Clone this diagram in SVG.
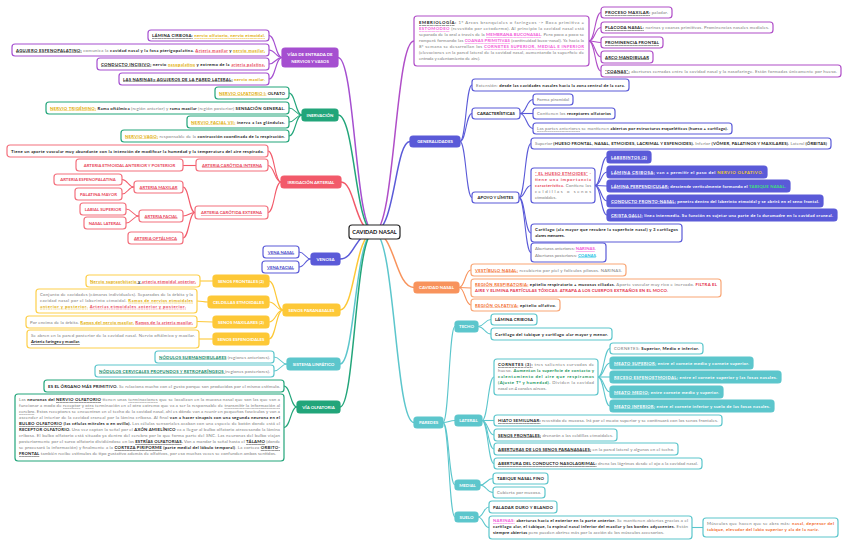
<svg xmlns="http://www.w3.org/2000/svg" width="848" height="547" viewBox="0 0 848 547">
<style>
text{font-family:Lato,"Open Sans","Liberation Sans",sans-serif;font-size:4.3px;fill:#777}
.lab{font-weight:700;fill:#fff;font-size:4.4px;text-anchor:middle}
.ctr{font-weight:700;fill:#111;font-size:5.6px;text-anchor:middle}
.g{fill:#7a7a7a}
.b{font-weight:700;fill:#1a1a1a}
.u{text-decoration:underline}
.y{font-weight:700;fill:#e0aa00}
.r{font-weight:700;fill:#e8475a}
.rd{font-weight:700;fill:#e3314a}
.bl{font-weight:700;fill:#4848c8}
.pk{font-weight:700;fill:#f257d8}
.cy{font-weight:700;fill:#14c0e4}
.gr{font-weight:700;fill:#3fe07a}
.dg{font-weight:700;fill:#17955a}
.ln{font-weight:700;fill:#138a6a}
.or{font-weight:700;fill:#f26a2a}
.w{font-weight:700;fill:#fff}
.yw{font-weight:700;fill:#f7cf2a}
.mid{text-anchor:middle}
rect{rx:3px;ry:3px;stroke-width:1.2}
.cp rect{fill:#fff;stroke:#a54fd0}
.ce rect{fill:#fff;stroke:#b04ec8}
.cg rect{fill:#fff;stroke:#22a57a}
.cr rect{fill:#fff;stroke:#f3707d}
.cb rect{fill:#fff;stroke:#5a5ad8}
.cbf rect{fill:#5a5ad8;stroke:#5a5ad8}
.cy2 rect{fill:#fff;stroke:#fdcf4a}
.cyf rect{fill:#fdc837;stroke:#fdc837}
.ct rect{fill:#fff;stroke:#5cc6cc}
.ctf rect{fill:#5cc6cc;stroke:#5cc6cc}
.co rect{fill:#fff;stroke:#f9a675}
#connectors path{fill:none;stroke-width:1.1}
.sp{stroke:#a54fd0}.se{stroke:#b04ec8}.sg{stroke:#22a57a}.sr{stroke:#f25a6a}.sb{stroke:#5a5ad8}.sy{stroke:#fdc837}.st{stroke:#5cc6cc}.so{stroke:#f8935c}
#connectors .main{stroke-width:1.5}
</style>

<g id="connectors">
<!-- center to left branches -->
<path class="sp main" d="M374 232 C355 232 355 57.5 338 57.5"/>
<path class="sg main" d="M374 232 C355 232 355 115 338 115"/>
<path class="sr main" d="M374 232 C355 232 355 182 341 182"/>
<path class="sb main" d="M374 232 C355 232 355 259 340 259"/>
<path class="sy main" d="M374 232 C355 232 355 310 340 310"/>
<path class="st main" d="M374 232 C355 232 355 364 340 364"/>
<path class="sg main" d="M374 232 C355 232 355 407 340 407"/>
<!-- center to right branches -->
<path class="se main" d="M374 232 C395 232 395 41 414 41"/>
<path class="sb main" d="M374 232 C395 232 395 141.5 410 141.5"/>
<path class="so main" d="M374 232 C395 232 395 287.5 414 287.5"/>
<path class="st main" d="M374 232 C395 232 395 422.5 414 422.5"/>
<!-- vias -->
<path class="sp" d="M282 57.5 C275.5 57.5 275.5 35.5 269 35.5"/>
<path class="sp" d="M282 57.5 C275.5 57.5 275.5 50 269 50"/>
<path class="sp" d="M282 57.5 C275.5 57.5 275.5 64 269 64"/>
<path class="sp" d="M282 57.5 C275.5 57.5 275.5 79 269 79"/>
<!-- inervacion -->
<path class="sg" d="M302 115 C295.5 115 295.5 93 289 93"/>
<path class="sg" d="M302 115 C295.5 115 295.5 108 289 108"/>
<path class="sg" d="M302 115 C295.5 115 295.5 122 289 122"/>
<path class="sg" d="M302 115 C295.5 115 295.5 136 289 136"/>
<!-- irrigacion -->
<path class="sr" d="M281 182 C274.5 182 274.5 151 268 151"/>
<path class="sr" d="M281 182 C274.5 182 274.5 165.5 268 165.5"/>
<path class="sr" d="M281 182 C274.5 182 274.5 212.5 268 212.5"/>
<path class="sr" d="M196 165.5 L183 165.5"/>
<path class="sr" d="M195 212.5 C189 212.5 189 187 183 187"/>
<path class="sr" d="M195 212.5 C189 212.5 189 216 183 216"/>
<path class="sr" d="M195 212.5 C189 212.5 189 238 183 238"/>
<path class="sr" d="M134 187 C128 187 128 179.5 122 179.5"/>
<path class="sr" d="M134 187 C128 187 128 194 122 194"/>
<path class="sr" d="M139 216 C132.5 216 132.5 209 126 209"/>
<path class="sr" d="M139 216 C132.5 216 132.5 223 126 223"/>
<!-- venosa -->
<path class="sb" d="M311 259 C305 259 305 252 299 252"/>
<path class="sb" d="M311 259 C305 259 305 267 299 267"/>
<!-- senos -->
<path class="sy" d="M283 310 C276 310 276 281 269 281"/>
<path class="sy" d="M283 310 C276 310 276 302 269 302"/>
<path class="sy" d="M283 310 C276 310 276 322 269 322"/>
<path class="sy" d="M283 310 C276 310 276 339 269 339"/>
<path class="sy" d="M213 281 L200 281"/>
<path class="sy" d="M208 302 C202.5 302 202.5 301 197 301"/>
<path class="sy" d="M213 322 L197 321.5"/>
<path class="sy" d="M213 339 L199 339"/>
<!-- linfatico -->
<path class="st" d="M287 364 C280.5 364 280.5 357 274 357"/>
<path class="st" d="M287 364 C280.5 364 280.5 371 274 371"/>
<!-- olfatoria -->
<path class="sg" d="M297 407 C290.5 407 290.5 386 284 386"/>
<path class="sg" d="M297 407 C290.5 407 290.5 427.5 284 427.5"/>
<!-- embriologia -->
<path class="se" d="M589 41 C595 41 595 12.5 601 12.5"/>
<path class="se" d="M589 41 C595 41 595 27.5 601 27.5"/>
<path class="se" d="M589 41 C595 41 595 42.5 601 42.5"/>
<path class="se" d="M589 41 C595 41 595 57 601 57"/>
<path class="se" d="M589 41 C595 41 595 71 601 71"/>
<!-- generalidades -->
<path class="sb" d="M460 141.5 C466 141.5 466 85 472 85"/>
<path class="sb" d="M460 141.5 C466 141.5 466 113.5 472 113.5"/>
<path class="sb" d="M460 141.5 C466 141.5 466 197.5 472 197.5"/>
<path class="sb" d="M520 113.5 C526.5 113.5 526.5 99.5 533 99.5"/>
<path class="sb" d="M520 113.5 L533 113.5"/>
<path class="sb" d="M520 113.5 C526.5 113.5 526.5 128.5 533 128.5"/>
<path class="sb" d="M519 197.5 C525 197.5 525 143.5 531 143.5"/>
<path class="sb" d="M519 197.5 C525 197.5 525 185.5 531 185.5"/>
<path class="sb" d="M519 197.5 C525 197.5 525 233 531 233"/>
<path class="sb" d="M519 197.5 C525 197.5 525 252.5 531 252.5"/>
<path class="sb" d="M595 185.5 C601 185.5 601 157 607 157"/>
<path class="sb" d="M595 185.5 C601 185.5 601 172 607 172"/>
<path class="sb" d="M595 185.5 L607 186"/>
<path class="sb" d="M595 185.5 C601 185.5 601 201 607 201"/>
<path class="sb" d="M595 185.5 C601 185.5 601 215 607 215"/>
<!-- cavidad nasal -->
<path class="so" d="M459 287.5 C465 287.5 465 270 471 270"/>
<path class="so" d="M459 287.5 L471 288"/>
<path class="so" d="M459 287.5 C465 287.5 465 305 471 305"/>
<!-- paredes -->
<path class="st" d="M443 422.5 C449 422.5 449 326.5 455 326.5"/>
<path class="st" d="M443 422.5 C449 422.5 449 420.5 455 420.5"/>
<path class="st" d="M443 422.5 C449 422.5 449 485 455 485"/>
<path class="st" d="M443 422.5 C449 422.5 449 517 455 517"/>
<path class="st" d="M478 326.5 C484.5 326.5 484.5 319.5 491 319.5"/>
<path class="st" d="M478 326.5 C484.5 326.5 484.5 334 491 334"/>
<path class="st" d="M482 420.5 C488 420.5 488 377 494 377"/>
<path class="st" d="M482 420.5 L494 420.5"/>
<path class="st" d="M482 420.5 C488 420.5 488 435 494 435"/>
<path class="st" d="M482 420.5 C488 420.5 488 449 494 449"/>
<path class="st" d="M482 420.5 C488 420.5 488 463.5 494 463.5"/>
<path class="st" d="M598 377 C604 377 604 348.5 610 348.5"/>
<path class="st" d="M598 377 C604 377 604 363 610 363"/>
<path class="st" d="M598 377 L610 377"/>
<path class="st" d="M598 377 C604 377 604 392 610 392"/>
<path class="st" d="M598 377 C604 377 604 406 610 406"/>
<path class="st" d="M480 485 C486.5 485 486.5 478.5 493 478.5"/>
<path class="st" d="M480 485 C486.5 485 486.5 492.5 493 492.5"/>
<path class="st" d="M478 517 C483.5 517 483.5 507 489 507"/>
<path class="st" d="M478 517 C483.5 517 483.5 527.5 489 527.5"/>
<path class="st" d="M692 527.5 L703 527.5"/>
</g>

<!-- CENTER -->
<g id="center">
<rect x="349" y="225" width="51" height="14" fill="#fff" stroke="#222" stroke-width="1.3"/>
<text class="ctr" x="374.5" y="234">CAVIDAD NASAL</text>
</g>

<!-- VIAS DE ENTRADA -->
<g id="vias">
<rect x="282" y="48" width="56" height="19" fill="#a54fd0" stroke="#a54fd0"/>
<text class="lab" x="310" y="56">VÍAS DE ENTRADA DE</text>
<text class="lab" x="310" y="62.5">NERVIOS Y VASOS</text>
</g>
<g id="vias-1" class="cp"><rect x="148" y="30" width="121" height="11"/><text x="152" y="37.2" textLength="113"><tspan class="b u">LÁMINA CIRBOSA:</tspan><tspan class="y"> </tspan><tspan class="y u">nervio olfatorio, nervio etmoidal.</tspan></text></g>
<g id="vias-2" class="cp"><rect x="12" y="44" width="257" height="12"/><text x="16" y="51.5" textLength="249"><tspan class="b u">AGUJERO ESFENOPALATINO:</tspan><tspan class="g"> comunica la </tspan><tspan class="b">cavidad nasal y la fosa pterigopalatina. </tspan><tspan class="r u">Arteria maxilar</tspan><tspan class="b"> y </tspan><tspan class="y u">nervio maxilar.</tspan></text></g>
<g id="vias-3" class="cp"><rect x="97" y="58" width="172" height="12"/><text x="101" y="65.5" textLength="164"><tspan class="b u">CONDUCTO INCISIVO:</tspan><tspan class="b"> nervio </tspan><tspan class="y u">nasopalatino</tspan><tspan class="b"> y extremo de la </tspan><tspan class="r u">arteria palatina.</tspan></text></g>
<g id="vias-4" class="cp"><rect x="119" y="73" width="150" height="12"/><text x="123" y="80.5" textLength="142"><tspan class="b u">LAS NARINAS= AGUJEROS DE LA PARED LATERAL:</tspan><tspan class="y"> nervio maxilar.</tspan></text></g>

<!-- INERVACION -->
<g id="inervacion">
<rect x="302" y="109" width="36" height="12" fill="#22a57a" stroke="#22a57a"/>
<text class="lab" x="320" y="116.6">INERVACIÓN</text>
</g>
<g id="inerv-1" class="cg"><rect x="215" y="87" width="74" height="12"/><text x="219" y="94.5" textLength="66"><tspan class="y u">NERVIO OLFATORIO I:</tspan><tspan class="b"> OLFATO</tspan></text></g>
<g id="inerv-2" class="cg"><rect x="46" y="102" width="243" height="12"/><text x="50" y="109.5" textLength="235"><tspan class="y u">NERVIO TRIGÉMINO:</tspan><tspan class="b"> Rama oftálmica </tspan><tspan class="g">(región anterior) y </tspan><tspan class="b">rama maxilar </tspan><tspan class="g">(región posterior) </tspan><tspan class="b">SENSACIÓN GENERAL.</tspan></text></g>
<g id="inerv-3" class="cg"><rect x="187" y="116" width="102" height="12"/><text x="191" y="123.5" textLength="94"><tspan class="y u">NERVIO FACIAL VII:</tspan><tspan class="b"> inerva a las glándulas.</tspan></text></g>
<g id="inerv-4" class="cg"><rect x="121" y="130" width="168" height="12"/><text x="125" y="137.5" textLength="160"><tspan class="y u">NERVIO VAGO:</tspan><tspan class="g"> responsable de la </tspan><tspan class="b">contracción coordinada de la respiración.</tspan></text></g>

<!-- IRRIGACION -->
<g id="irrigacion">
<rect x="281" y="176" width="60" height="12" fill="#f25a6a" stroke="#f25a6a"/>
<text class="lab" x="311" y="183.6">IRRIGACIÓN ARTERIAL</text>
</g>
<g id="irr-0" class="cr"><rect x="7" y="145" width="261" height="12"/><text x="11" y="152.5" textLength="253" class="b">Tiene un aporte vascular muy abundante con la intención de modificar la humedad y la temperatura del aire respirado.</text></g>
<g id="irr-int" class="cr"><rect x="196" y="159" width="72" height="12"/><text x="232" y="166.5" class="r u mid">ARTERIA CARÓTIDA INTERNA</text></g>
<g id="irr-etm" class="cr"><rect x="76" y="159" width="107" height="12"/><text x="129.5" y="166.5" class="r mid">ARTERIA ETMOIDAL ANTERIOR Y POSTERIOR</text></g>
<g id="irr-ext" class="cr"><rect x="195" y="206" width="73" height="13"/><text x="231.5" y="214" class="r u mid">ARTERIA CARÓTIDA EXTERNA</text></g>
<g id="irr-max" class="cr"><rect x="134" y="181" width="49" height="12"/><text x="158.5" y="188.5" class="r u mid">ARTERIA MAXILAR</text></g>
<g id="irr-esf" class="cr"><rect x="54" y="174" width="68" height="11"/><text x="88" y="181" class="r mid">ARTERIA ESFENOPALATINA</text></g>
<g id="irr-pal" class="cr"><rect x="75" y="188" width="47" height="12"/><text x="98.5" y="195.5" class="r mid">PALATINA MAYOR</text></g>
<g id="irr-fac" class="cr"><rect x="139" y="210" width="44" height="12"/><text x="161" y="217.5" class="r u mid">ARTERIA FACIAL</text></g>
<g id="irr-lab" class="cr"><rect x="80" y="203" width="46" height="12"/><text x="103" y="210.5" class="r mid">LABIAL SUPERIOR</text></g>
<g id="irr-nas" class="cr"><rect x="84" y="217" width="42" height="12"/><text x="105" y="224.5" class="r mid">NASAL LATERAL</text></g>
<g id="irr-oft" class="cr"><rect x="128" y="232" width="55" height="12"/><text x="155.5" y="239.5" class="r u mid">ARTERIA OFTÁLMICA</text></g>

<!-- VENOSA -->
<g id="venosa">
<rect x="311" y="253" width="29" height="12" fill="#5a5ad8" stroke="#5a5ad8"/>
<text class="lab" x="325.5" y="260.6">VENOSA</text>
</g>
<g id="ven-1" class="cb"><rect x="263" y="246" width="36" height="12"/><text x="281" y="253.5" class="bl u mid">VENA NASAL</text></g>
<g id="ven-2" class="cb"><rect x="262" y="261" width="37" height="12"/><text x="280.5" y="268.5" class="bl u mid">VENA FACIAL</text></g>

<!-- SENOS PARANASALES -->
<g id="senos">
<rect x="283" y="304" width="57" height="12" fill="#fdc837" stroke="#fdc837"/>
<text class="lab" x="311.5" y="311.6">SENOS PARANASALES</text>
</g>
<g id="sen-front" class="cyf"><rect x="213" y="275" width="56" height="12"/><text x="241" y="282.6" class="lab">SENOS FRONTALES (2)</text></g>
<g id="sen-front-t" class="cy2"><rect x="86" y="275" width="114" height="12"/><text x="90" y="282.5" textLength="106"><tspan class="y u">Nervio supraorbitario</tspan><tspan class="b u"> y </tspan><tspan class="r u">arteria etmoidal anterior.</tspan></text></g>
<g id="sen-celd" class="cyf"><rect x="208" y="296" width="61" height="12"/><text x="238.5" y="303.6" class="lab">CELDILLAS ETMOIDALES</text></g>
<g id="sen-celd-t" class="cy2"><rect x="36" y="289" width="161" height="24"/>
<text x="40" y="295.8" textLength="153" class="g">Conjunto de cavidades (cámaras individuales). Separados de la órbita y la</text>
<text x="40" y="301.8" textLength="153"><tspan class="g">cavidad nasal por el laberinto etmoidal. </tspan><tspan class="y u">Ramos de nervios etmoidales</tspan></text>
<text x="40" y="307.8" textLength="146"><tspan class="y u">anterior y posterior.</tspan><tspan class="r"> </tspan><tspan class="r u">Arterias etmoidales anterior y posterior.</tspan></text></g>
<g id="sen-max" class="cyf"><rect x="213" y="316" width="56" height="12"/><text x="241" y="323.6" class="lab">SENOS MAXILARES (2)</text></g>
<g id="sen-max-t" class="cy2"><rect x="26" y="316" width="171" height="12"/><text x="30" y="323.5" textLength="163"><tspan class="g">Por encima de la órbita. </tspan><tspan class="y u">Ramos del nervio maxilar.</tspan><tspan class="r"> </tspan><tspan class="r u">Ramos de la arteria maxilar.</tspan></text></g>
<g id="sen-esf" class="cyf"><rect x="213" y="333" width="56" height="12"/><text x="241" y="340.6" class="lab">SENOS ESFENOIDALES</text></g>
<g id="sen-esf-t" class="cy2"><rect x="27" y="330" width="172" height="18"/>
<text x="31" y="337" textLength="164" class="g">Se abren en la pared posterior de la cavidad nasal. Nervio oftálmico y maxilar.</text>
<text x="31" y="343.2" class="b u">Arteria faríngea y maxilar.</text></g>

<!-- SISTEMA LINFATICO -->
<g id="linfatico">
<rect x="287" y="358" width="53" height="12" fill="#5cc6cc" stroke="#5cc6cc"/>
<text class="lab" x="313.5" y="365.6">SISTEMA LINFÁTICO</text>
</g>
<g id="linf-1" class="ct"><rect x="155" y="351" width="119" height="12"/><text x="159" y="358.5" textLength="111"><tspan class="ln u">NÓDULOS SUBMANDIBULARES</tspan><tspan class="g"> (regiones anteriores).</tspan></text></g>
<g id="linf-2" class="ct"><rect x="95" y="365" width="179" height="12"/><text x="99" y="372.5" textLength="171"><tspan class="ln u">NÓDULOS CERVICALES PROFUNDOS Y RETROFARÍNGEOS </tspan><tspan class="g">(regiones posteriores).</tspan></text></g>

<!-- VIA OLFATORIA -->
<g id="via-olfatoria">
<rect x="297" y="401" width="43" height="12" fill="#22a57a" stroke="#22a57a"/>
<text class="lab" x="318.5" y="408.6">VÍA OLFATORIA</text>
</g>
<g id="olf-1" class="cg"><rect x="44" y="380" width="240" height="12"/><text x="48" y="387.5" textLength="232"><tspan class="b">ES EL ÓRGANO MÁS PRIMITIVO.</tspan><tspan class="g"> Se relaciona mucho con el gusto porque son producidos por el mismo estímulo.</tspan></text></g>
<g id="olf-2" class="cg"><rect x="15" y="394" width="269" height="67"/>
<text x="19" y="401" textLength="261"><tspan class="g">Las </tspan><tspan class="b">neuronas del </tspan><tspan class="b u">NERVIO OLFATORIO</tspan><tspan class="g"> tienen unas </tspan><tspan class="g u">terminaciones</tspan><tspan class="g"> que se localizan en la mucosa nasal que son las que van a</tspan></text>
<text x="19" y="407" textLength="261"><tspan class="g">funcionar a modo de </tspan><tspan class="g u">receptor</tspan><tspan class="g"> y </tspan><tspan class="g u">otra</tspan><tspan class="g"> terminación en el otro extremo que va a ser la responsable de </tspan><tspan class="g u">transmitir la información al</tspan></text>
<text x="19" y="413" textLength="261"><tspan class="g u">cerebro</tspan><tspan class="g">. Estos receptores se encuentran en el techo de la cavidad nasal, ahí es dónde van a reunir en pequeños fascículos y van a</tspan></text>
<text x="19" y="419" textLength="261"><tspan class="g">ascender al interior de la cavidad craneal por la lámina cribosa. Al final </tspan><tspan class="b">van a hacer sinapsis con una segunda neurona en el</tspan></text>
<text x="19" y="425" textLength="261"><tspan class="b u">BULBO OLFATORIO</tspan><tspan class="b"> (las células mitrales o en ovillo).</tspan><tspan class="g"> Las células sensoriales acaban con una especie de botón donde está el</tspan></text>
<text x="19" y="431" textLength="261"><tspan class="b">RECEPTOR OLFATORIO.</tspan><tspan class="g"> Una vez captan la señal por el </tspan><tspan class="b">AXÓN AMIELÍNICO</tspan><tspan class="g"> va a llegar al bulbo olfatorio atravesando la lámina</tspan></text>
<text x="19" y="437" textLength="261"><tspan class="g">cribosa. El bulbo olfatorio está situado ya dentro del cerebro por lo que forma parte del SNC. Las neuronas del bulbo viajan</tspan></text>
<text x="19" y="443" textLength="261"><tspan class="g">posteriormente por el surco olfatorio dividiéndose en las </tspan><tspan class="b u">ESTRÍAS OLFATORIAS</tspan><tspan class="b">.</tspan><tspan class="g"> Van a mandar la señal hasta el </tspan><tspan class="b u">TÁLAMO</tspan><tspan class="g"> (donde</tspan></text>
<text x="19" y="449" textLength="261"><tspan class="g">se procesará la información) y finalmente a la </tspan><tspan class="b u">CORTEZA PIRIFORME</tspan><tspan class="b"> (parte medial del lóbulo temporal)</tspan><tspan class="g">. La corteza </tspan><tspan class="b u">ORBITO-</tspan></text>
<text x="19" y="455" textLength="257"><tspan class="b u">FRONTAL</tspan><tspan class="g"> también recibe estímulos de tipo gustativo además de olfativos, por eso muchas veces se confunden ambos sentidos.</tspan></text>
</g>

<!-- EMBRIOLOGIA -->
<g id="embriologia" class="ce"><rect x="414" y="16" width="175" height="50"/>
<text x="419" y="24" textLength="165"><tspan class="b u">EMBRIOLOGÍA</tspan><tspan class="b">:</tspan><tspan class="g"> 1º Arcos branquiales o faríngeos -&gt; Boca primitiva =</tspan></text>
<text x="419" y="30" textLength="165"><tspan class="pk u">ESTOMODEO</tspan><tspan class="g"> (revestido por ectodermo). Al principio la cavidad nasal está</tspan></text>
<text x="419" y="36" textLength="165"><tspan class="g">separada de la oral a través de la </tspan><tspan class="pk u">MEMBRANA BUCONASAL</tspan><tspan class="g">. Pero poco a poco se</tspan></text>
<text x="419" y="42" textLength="165"><tspan class="g">romperá formando las </tspan><tspan class="pk u">COANAS PRIMITIVAS</tspan><tspan class="g"> (continuidad buco-nasal). Ya hacia la</tspan></text>
<text x="419" y="48" textLength="165"><tspan class="g">8ª semana se desarrollan los </tspan><tspan class="pk u">CORNETES SUPERIOR, MEDIAL E INFERIOR</tspan></text>
<text x="419" y="54" textLength="165" class="g">(elevaciones en la pared lateral de la cavidad nasal, aumentando la superficie de</text>
<text x="419" y="60" class="g">entrada y calentamiento de aire).</text>
</g>
<g id="emb-1" class="ce"><rect x="601" y="7" width="71" height="11"/><text x="605" y="14" textLength="63"><tspan class="b u">PROCESO MAXILAR:</tspan><tspan class="g"> paladar.</tspan></text></g>
<g id="emb-2" class="ce"><rect x="601" y="22" width="172" height="11"/><text x="605" y="29" textLength="164"><tspan class="b u">PLACODA NASAL:</tspan><tspan class="g"> narinas y coanas primitivas. Prominencias nasales mediales.</tspan></text></g>
<g id="emb-3" class="ce"><rect x="601" y="37" width="62" height="11"/><text x="605" y="44" textLength="54" class="b u">PROMINENCIA FRONTAL</text></g>
<g id="emb-4" class="ce"><rect x="601" y="51" width="52" height="12"/><text x="605" y="58.5" textLength="44" class="b u">ARCO MANDIBULAR</text></g>
<g id="emb-5" class="ce"><rect x="601" y="65" width="240" height="12"/><text x="605" y="72.5" textLength="232"><tspan class="b u">*COANAS*:</tspan><tspan class="g"> aberturas cerradas entre la cavidad nasal y la nasofaringe. Están formadas únicamente por hueso.</tspan></text></g>

<!-- GENERALIDADES -->
<g id="generalidades">
<rect x="410" y="136" width="50" height="11" fill="#5a5ad8" stroke="#5a5ad8"/>
<text class="lab" x="435" y="143.2">GENERALIDADES</text>
</g>
<g id="gen-ext" class="cb"><rect x="472" y="79" width="157" height="12"/><text x="476" y="86.5" textLength="149"><tspan class="g">Extensión: </tspan><tspan class="b">desde las cavidades nasales hacia la zona central de la cara.</tspan></text></g>
<g id="gen-car" class="cb"><rect x="472" y="108" width="48" height="11"/><text x="496" y="115.2" class="b mid">CARACTERÍSTICAS</text></g>
<g id="car-1" class="cb"><rect x="533" y="94" width="40" height="11"/><text x="537" y="101" textLength="32" class="g">Forma piramidal</text></g>
<g id="car-2" class="cb"><rect x="533" y="108" width="82" height="11"/><text x="537" y="115" textLength="74"><tspan class="g">Contienen los </tspan><tspan class="b">receptores olfatorios</tspan></text></g>
<g id="car-3" class="cb"><rect x="533" y="123" width="199" height="11"/><text x="537" y="130" textLength="191"><tspan class="g u">Las partes anteriores</tspan><tspan class="g"> se mantienen </tspan><tspan class="b">abiertas por estructuras esqueléticas (hueso + cartílago).</tspan></text></g>
<g id="gen-apo" class="cb"><rect x="472" y="192" width="47" height="11"/><text x="495.5" y="199.2" class="b mid">APOYO Y LÍMITES</text></g>
<g id="apo-1" class="cb"><rect x="531" y="138" width="300" height="11"/><text x="535" y="145" textLength="292"><tspan class="g">Superior </tspan><tspan class="b">(HUESO FRONTAL, NASAL, ETMOIDES, LACRIMAL Y ESFENOIDES).</tspan><tspan class="g"> Inferior </tspan><tspan class="b">(VÓMER, PALATINOS Y MAXILARES).</tspan><tspan class="g"> Lateral </tspan><tspan class="b">(ÓRBITAS)</tspan></text></g>
<g id="apo-etm" class="cb"><rect x="531" y="168" width="64" height="35"/>
<text x="535" y="174.5" textLength="56"><tspan class="r u">* EL HUESO ETMOIDES*</tspan><tspan class="r"> -</tspan></text>
<text x="535" y="180.5" textLength="56" class="r">tiene una importancia</text>
<text x="535" y="186.5" textLength="56"><tspan class="r">característica.</tspan><tspan class="g"> Contiene las</tspan></text>
<text x="535" y="192.5" textLength="56" class="g">celdillas o senos</text>
<text x="535" y="198.5" class="g">etmoidales.</text>
</g>
<g id="etm-1" class="cbf"><rect x="607" y="151" width="44" height="12"/><text x="611" y="158.5" textLength="36" class="w u">LABERINTOS (2)</text></g>
<g id="etm-2" class="cbf"><rect x="607" y="166" width="160" height="12"/><text x="611" y="173.5" textLength="152"><tspan class="w u">LÁMINA CRIBOSA:</tspan><tspan class="w"> van a permitir el paso del </tspan><tspan class="yw">NERVIO OLFATIVO.</tspan></text></g>
<g id="etm-3" class="cbf"><rect x="607" y="180" width="183" height="12"/><text x="611" y="187.5" textLength="175"><tspan class="w u">LÁMINA PERPENDICULAR:</tspan><tspan class="w"> desciende verticalmente formando el </tspan><tspan class="gr">TABIQUE NASAL.</tspan></text></g>
<g id="etm-4" class="cbf"><rect x="607" y="195" width="216" height="12"/><text x="611" y="202.5" textLength="208"><tspan class="w u">CONDUCTO FRONTO-NASAL:</tspan><tspan class="w"> penetra dentro del laberinto etmoidal y se abrirá en el seno frontal.</tspan></text></g>
<g id="etm-5" class="cbf"><rect x="607" y="209" width="230" height="12"/><text x="611" y="216.5" textLength="222"><tspan class="w u">CRISTA GALLI:</tspan><tspan class="w"> línea intermedia. Su función es sujetar una parte de la duramadre en la cavidad craneal.</tspan></text></g>
<g id="apo-cart" class="cb"><rect x="531" y="224" width="151" height="18"/>
<text x="535" y="231" textLength="143" class="b">Cartílago (ala mayor que recubre la superficie nasal) y 3 cartílagos</text>
<text x="535" y="237.2" class="b">alares menores.</text></g>
<g id="apo-abert" class="cb"><rect x="531" y="243" width="75" height="19"/>
<text x="535" y="250.2"><tspan class="g">Aberturas anteriores: </tspan><tspan class="pk u">NARINAS</tspan><tspan class="g">.</tspan></text>
<text x="535" y="256.6"><tspan class="g">Aberturas posteriores: </tspan><tspan class="cy u">COANAS</tspan><tspan class="g">.</tspan></text></g>

<!-- CAVIDAD NASAL (orange) -->
<g id="cavidad">
<rect x="414" y="282" width="45" height="11" fill="#f8935c" stroke="#f8935c"/>
<text class="lab" x="436.5" y="289.2">CAVIDAD NASAL</text>
</g>
<g id="cav-1" class="co"><rect x="471" y="264" width="155" height="12"/><text x="475" y="271.5" textLength="147"><tspan class="or u">VESTÍBULO NASAL:</tspan><tspan class="g"> recubierto por piel y folículos pilosos. NARINAS.</tspan></text></g>
<g id="cav-2" class="co"><rect x="471" y="279" width="250" height="18"/>
<text x="475" y="285.6" textLength="242"><tspan class="or u">REGIÓN RESPIRATORIA:</tspan><tspan class="b"> epitelio respiratorio + mucosas ciliadas.</tspan><tspan class="g"> Aporte vascular muy rico e inervado. </tspan><tspan class="rd">FILTRA EL</tspan></text>
<text x="475" y="291.8" textLength="193" class="rd">AIRE Y ELIMINA PARTÍCULAS TÓXICAS. ATRAPA A LOS CUERPOS EXTRAÑOS EN EL MOCO.</text></g>
<g id="cav-3" class="co"><rect x="471" y="299" width="89" height="12"/><text x="475" y="306.5" textLength="81"><tspan class="or u">REGIÓN OLFATIVA:</tspan><tspan class="b"> epitelio olfativo.</tspan></text></g>

<!-- PAREDES -->
<g id="paredes">
<rect x="414" y="417" width="29" height="11" fill="#5cc6cc" stroke="#5cc6cc"/>
<text class="lab" x="428.5" y="424.2">PAREDES</text>
</g>
<g id="techo" class="ctf"><rect x="455" y="321" width="23" height="11"/><text class="lab" x="466.5" y="328.2">TECHO</text></g>
<g id="techo-1" class="ct"><rect x="491" y="314" width="46" height="11"/><text x="495" y="321" textLength="38" class="b">LÁMINA CRIBOSA</text></g>
<g id="techo-2" class="ct"><rect x="491" y="328" width="121" height="12"/><text x="495" y="335.5" textLength="113" class="b">Cartílago del tabique y cartílago alar mayor y menor.</text></g>
<g id="lateral" class="ctf"><rect x="455" y="415" width="27" height="11"/><text class="lab" x="468.5" y="422.2">LATERAL</text></g>
<g id="lat-cornetes" class="ct"><rect x="494" y="359" width="104" height="36"/>
<text x="498" y="366" textLength="96"><tspan class="b u">CORNETES (3):</tspan><tspan class="g"> tres salientes curvados de</tspan></text>
<text x="498" y="372" textLength="96"><tspan class="g">hueso. </tspan><tspan class="dg">Aumentan la superficie de contacto y</tspan></text>
<text x="498" y="378" textLength="96" class="dg">calentamiento del aire que respiramos</text>
<text x="498" y="384" textLength="96"><tspan class="dg">(Ajuste Tº y humedad).</tspan><tspan class="g"> Dividen la cavidad</tspan></text>
<text x="498" y="390" class="g">nasal en 4 canales aéreos.</text>
</g>
<g id="corn-1" class="ct"><rect x="610" y="343" width="93" height="11"/><text x="614" y="350" textLength="85"><tspan class="g">CORNETES: </tspan><tspan class="b">Superior, Medio  e inferior.</tspan></text></g>
<g id="corn-2" class="ctf"><rect x="610" y="357" width="143" height="12"/><text x="614" y="364.5" textLength="135"><tspan class="w u">MEATO SUPERIOR:</tspan><tspan class="w"> entre el cornete medio y cornete superior.</tspan></text></g>
<g id="corn-3" class="ctf"><rect x="610" y="371" width="171" height="12"/><text x="614" y="378.5" textLength="163"><tspan class="w u">RECESO ESFENOETMOIDAL:</tspan><tspan class="w"> entre el cornete superior y las fosas nasales.</tspan></text></g>
<g id="corn-4" class="ctf"><rect x="610" y="386" width="113" height="12"/><text x="614" y="393.5" textLength="105"><tspan class="w u">MEATO MEDIO:</tspan><tspan class="w"> entre cornete medio y superior.</tspan></text></g>
<g id="corn-5" class="ctf"><rect x="610" y="400" width="164" height="12"/><text x="614" y="407.5" textLength="156"><tspan class="w u">MEATO INFERIOR:</tspan><tspan class="w"> entre el cornete inferior y suelo de las fosas nasales.</tspan></text></g>
<g id="lat-hiato" class="ct"><rect x="494" y="415" width="228" height="11"/><text x="498" y="422" textLength="220"><tspan class="b u">HIATO SEMILUNAR:</tspan><tspan class="g"> revestido de mucosa. Irá por el meato superior y se continuará con los senos frontales.</tspan></text></g>
<g id="lat-senos" class="ct"><rect x="494" y="429" width="123" height="12"/><text x="498" y="436.5" textLength="115"><tspan class="b u">SENOS FRONTALES:</tspan><tspan class="g"> drenarán a las celdillas etmoidales.</tspan></text></g>
<g id="lat-abert" class="ct"><rect x="494" y="443" width="184" height="12"/><text x="498" y="450.5" textLength="176"><tspan class="b u">ABERTURAS DE LOS SENOS PARANASALES:</tspan><tspan class="g"> en la pared lateral y algunas en el techo.</tspan></text></g>
<g id="lat-cond" class="ct"><rect x="494" y="458" width="208" height="11"/><text x="498" y="465" textLength="200"><tspan class="b u">ABERTURA DEL CONDUCTO NASOLAGRIMAL:</tspan><tspan class="g"> drena las lágrimas desde el ojo a la cavidad nasal.</tspan></text></g>
<g id="medial" class="ctf"><rect x="455" y="480" width="25" height="10"/><text class="lab" x="467.5" y="486.6">MEDIAL</text></g>
<g id="med-1" class="ct"><rect x="493" y="473" width="55" height="11"/><text x="497" y="480" textLength="47" class="b">TABIQUE NASAL FINO</text></g>
<g id="med-2" class="ct"><rect x="493" y="487" width="52" height="11"/><text x="497" y="494" textLength="44" class="g">Cubierta por mucosa.</text></g>
<g id="suelo" class="ctf"><rect x="455" y="512" width="23" height="10"/><text class="lab" x="466.5" y="518.6">SUELO</text></g>
<g id="suelo-1" class="ct"><rect x="489" y="501" width="68" height="12"/><text x="493" y="508.5" textLength="60" class="b">PALADAR DURO Y BLANDO</text></g>
<g id="suelo-2" class="ct"><rect x="489" y="516" width="203" height="23"/>
<text x="493" y="522.4" textLength="195"><tspan class="pk u">NARINAS:</tspan><tspan class="b"> aberturas hacia el exterior en la parte anterior.</tspan><tspan class="g"> Se mantienen abiertas gracias a el</tspan></text>
<text x="493" y="528.4" textLength="195"><tspan class="b">cartílago alar, el tabique, la espinal nasal inferior del maxilar y los bordes adyacentes.</tspan><tspan class="g"> Están</tspan></text>
<text x="493" y="534.4" textLength="171"><tspan class="b">siempre abiertas</tspan><tspan class="g"> pero pueden abrirse más por la acción de los músculos accesorios.</tspan></text></g>
<g id="suelo-3" class="ct"><rect x="703" y="518" width="135" height="19"/>
<text x="707" y="525" textLength="127"><tspan class="g">Músculos que hacen que se abra más: </tspan><tspan class="or">nasal, depresor del</tspan></text>
<text x="707" y="531.2" textLength="112" class="or">tabique, elevador del labio superior y ala de la nariz.</text></g>
</svg>
